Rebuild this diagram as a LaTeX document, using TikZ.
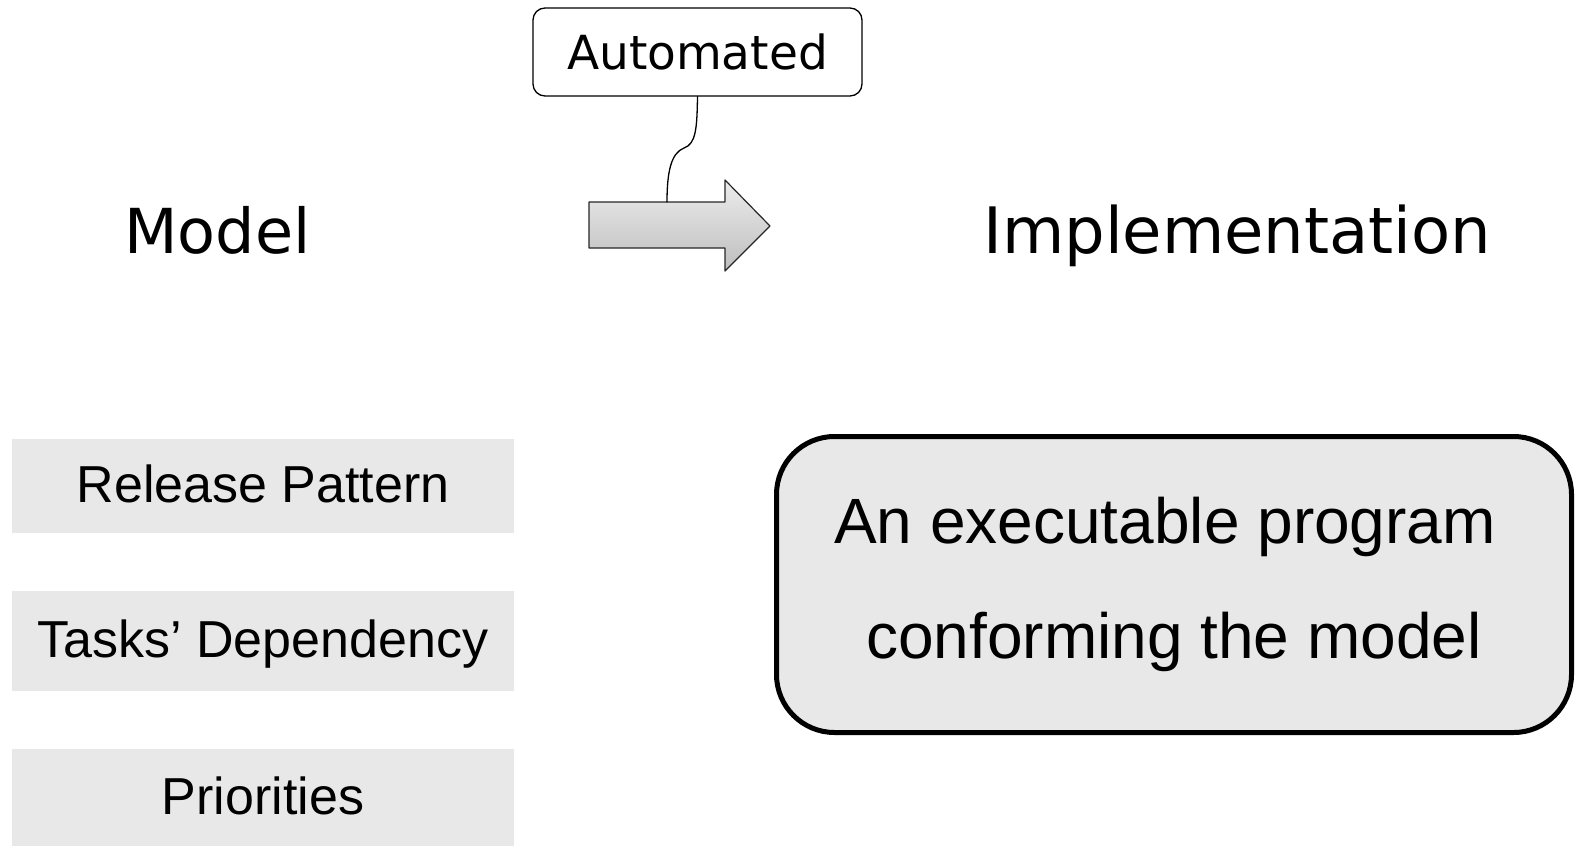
\documentclass[tikz,border=0pt]{standalone}
\usepackage{fontspec}
\setmainfont{Liberation Sans}
\newfontfamily\verdfont{DejaVu Sans}
\usetikzlibrary{positioning}
\definecolor{boxgray}{RGB}{232,232,232}
\definecolor{arrowtop}{RGB}{236,236,236}
\definecolor{arrowbot}{RGB}{190,190,190}
\tikzset{
	itembox/.style={fill=boxgray, minimum width=502pt, minimum height=94pt, inner sep=0pt,
		text height=38pt, text depth=5pt, font=\fontsize{52}{60}\selectfont},
	headline/.style={anchor=base west, inner sep=0pt, font=\verdfont\fontsize{62}{70}\selectfont}
}
\begin{document}
\begin{tikzpicture}[x=1pt, y=-1pt, line join=round, line cap=round]
	\useasboundingbox (0,0) rectangle (1577,846);
	% headings
	\node[headline] (model) at (124,253) {Model};
	\node[headline, font=\verdfont\fontsize{64}{70}\selectfont] (impl) at (983,253) {Implementation};
	% the big arrow
	\path[draw=black!85, line width=1.2pt, top color=arrowtop, bottom color=arrowbot]
	(589,202) -- (725,202) -- (725,180) -- (770,226) -- (725,271) -- (725,248) -- (589,248) -- cycle;
	\coordinate (arrtop) at (667,202);
	% callout
	\node[draw, rounded corners=12pt, line width=1.3pt, minimum width=329pt, minimum height=88pt,
		inner sep=0pt, font=\verdfont\fontsize{47}{52}\selectfont] (automated) at (697.5,52) {Automated};
	\draw[line width=1.3pt] (automated.south) .. controls (697,128) and (696,144) .. (684,148)
		.. controls (671,153) and (667,172) .. (arrtop);
	% model items
	\node[itembox] (release) at (263,486) {Release Pattern};
	\node[itembox, minimum height=100pt, below=58pt of release] (tasks) {Tasks’ Dependency};
	\node[itembox, minimum height=98pt, below=57pt of tasks] (prio) {Priorities};
	% implementation box
	\node[draw, fill=boxgray, line width=5pt, rounded corners=58pt, minimum width=795pt,
		minimum height=296pt, align=center, font=\fontsize{64}{115}\selectfont]
		(program) at (1174,584.5) {An executable program\hspace*{18pt}\\ conforming the model};
\end{tikzpicture}
\end{document}
